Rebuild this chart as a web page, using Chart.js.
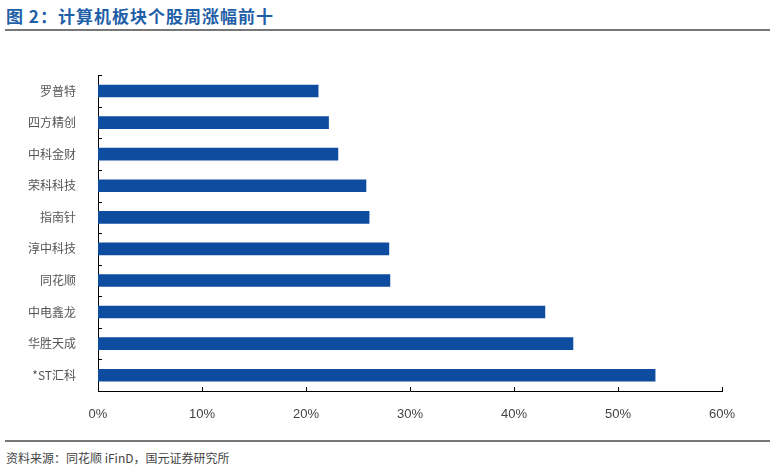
<!DOCTYPE html>
<html>
<head>
<meta charset="utf-8">
<script src="https://cdn.jsdelivr.net/npm/chart.js"></script>
<style>
  body { margin: 0; width: 776px; height: 471px; background: #fff; font-family: "Noto Sans CJK SC", sans-serif; position: relative; overflow: hidden; }
  #title { position: absolute; left: 6px; top: 3px; font-size: 17px; font-weight: bold; color: #1f5fa8; letter-spacing: 1px; }
  #topline { position: absolute; left: 5px; top: 29px; width: 765px; height: 2px; background: #777; }
  #botline { position: absolute; left: 5px; top: 440px; width: 765px; height: 2px; background: #777; }
  #source { position: absolute; left: 6px; top: 449px; font-size: 12px; color: #444; }
  #wrap { position: absolute; left: 0; top: 54px; width: 776px; height: 367px; }
</style>
</head>
<body>
<div id="title">图 2：计算机板块个股周涨幅前十</div>
<div id="topline"></div>
<div id="wrap"><canvas id="c"></canvas></div>
<div id="botline"></div>
<div id="source">资料来源：同花顺 iFinD，国元证券研究所</div>
<script>
const stocks = ["罗普特", "四方精创", "中科金财", "荣科科技", "指南针", "淳中科技", "同花顺", "中电鑫龙", "华胜天成", "*ST汇科"];
const gains = [21.2, 22.2, 23.1, 25.8, 26.1, 28.0, 28.1, 43.0, 45.7, 53.6];
const xTicks = [0, 10, 20, 30, 40, 50, 60];

// small inward tick marks on both axes
const innerTicks = {
  id: "innerTicks",
  afterDraw(chart) {
    const ctx = chart.ctx;
    const x = chart.scales.x, y = chart.scales.y;
    ctx.save();
    ctx.strokeStyle = "#000";
    ctx.lineWidth = 1;
    ctx.beginPath();
    xTicks.forEach((v) => {
      const px = Math.round(x.getPixelForValue(v)) + 0.5;
      ctx.moveTo(px, y.bottom);
      ctx.lineTo(px, y.bottom - 4);
    });
    for (let i = 0; i <= stocks.length; i++) {
      const py = Math.round(y.getPixelForValue(i - 0.5)) + 0.5;
      ctx.moveTo(x.left, py);
      ctx.lineTo(x.left + 4, py);
    }
    ctx.stroke();
    ctx.restore();
  },
};

new Chart(document.getElementById("c"), {
  type: "bar",
  data: {
    labels: stocks,
    datasets: [{ data: gains, backgroundColor: "#0d4c9e", barPercentage: 0.4, categoryPercentage: 1 }],
  },
  options: {
    indexAxis: "y",
    responsive: true,
    maintainAspectRatio: false,
    animation: false,
    layout: { padding: { top: 10, right: 54, left: 0, bottom: 0 } },
    plugins: { legend: { display: false }, tooltip: { enabled: false } },
    scales: {
      x: {
        min: 0, max: 60,
        afterBuildTicks: (s) => { s.ticks = xTicks.map((v) => ({ value: v })); },
        afterFit: (s) => { s.height = 30; },
        grid: { display: false },
        border: { display: true, color: "#000", width: 1 },
        ticks: { callback: (v) => v + "%", color: "#444", font: { family: "Liberation Sans", size: 13 }, padding: 8 },
      },
      y: {
        afterFit: (s) => { s.width = 98; },
        grid: { display: false },
        border: { display: true, color: "#000", width: 1 },
        ticks: { color: "#555", font: { family: "Noto Sans CJK SC", size: 12 }, padding: 14 },
      },
    },
  },
  plugins: [innerTicks],
});
</script>
</body>
</html>
